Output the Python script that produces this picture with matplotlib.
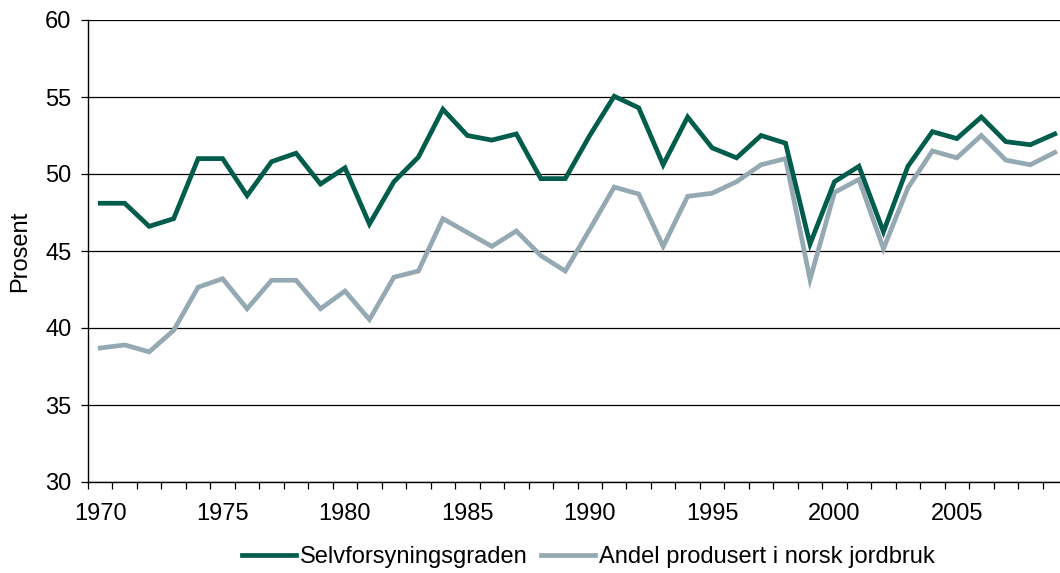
import matplotlib
matplotlib.use('Agg')
from matplotlib import pyplot as plt
from matplotlib.ticker import MultipleLocator, FixedLocator

# Years on the category axis
years = list(range(1970, 2010))

# Selvforsyningsgraden (prosent)
selvforsyning = [48.1, 48.1, 46.6, 47.1, 51.0, 51.0, 48.6, 50.8, 51.35, 49.35,
                 50.4, 46.75, 49.5, 51.1, 54.2, 52.5, 52.2, 52.6, 49.7, 49.7,
                 52.5, 55.05, 54.3, 50.6, 53.7, 51.7, 51.05, 52.5, 52.0, 45.45,
                 49.5, 50.5, 46.25, 50.5, 52.75, 52.3, 53.7, 52.1, 51.9, 52.6]

# Andel produsert i norsk jordbruk (prosent)
andel_norsk = [38.7, 38.9, 38.45, 39.85, 42.65, 43.2, 41.25, 43.1, 43.1, 41.25,
               42.4, 40.55, 43.3, 43.7, 47.1, 46.2, 45.3, 46.3, 44.7, 43.7,
               46.4, 49.15, 48.7, 45.3, 48.55, 48.75, 49.5, 50.6, 51.0, 43.15,
               48.8, 49.65, 45.15, 49.1, 51.5, 51.05, 52.5, 50.9, 50.6, 51.4]

year_labels = ['1970', '1975', '1980', '1985', '1990', '1995', '2000', '2005']

plt.rcParams['font.family'] = ['Liberation Sans', 'DejaVu Sans']

fig = plt.figure(figsize=(10.6, 5.73), dpi=100)
# Plot area runs past the right border, as in the original crop
ax = fig.add_axes([88 / 1060, 91 / 573, 979 / 1060, 462 / 573])

x = list(range(len(years)))
ax.plot(x, selvforsyning, color='#005c4b', linewidth=3.4,
        label='Selvforsyningsgraden', solid_joinstyle='miter', zorder=3)
ax.plot(x, andel_norsk, color='#95a9b3', linewidth=3.4,
        label='Andel produsert i norsk jordbruk', solid_joinstyle='miter', zorder=2)

ax.set_xlim(-0.5, len(years) - 0.5)
ax.set_ylim(30, 60)

# Y axis: gridlines every 5
ax.yaxis.set_major_locator(MultipleLocator(5))
ax.grid(axis='y', color='#000000', linewidth=0.9)
ax.set_axisbelow(True)
ax.tick_params(axis='y', direction='out', length=5, width=0.9, pad=7,
               labelsize=17, color='black')
ax.set_ylabel('Prosent', fontsize=17, labelpad=10)

# X axis: tick marks between categories, labels every five years
label_pos = [years.index(int(y)) for y in year_labels]
ax.xaxis.set_major_locator(FixedLocator(label_pos))
ax.set_xticklabels(year_labels)
ax.xaxis.set_minor_locator(FixedLocator([i - 0.5 for i in range(len(years) + 1)]))
ax.tick_params(axis='x', which='major', length=0, pad=15, labelsize=17)
ax.tick_params(axis='x', which='minor', direction='out', length=5, width=0.9,
               color='black')

for side in ['top', 'right']:
    ax.spines[side].set_visible(False)
ax.spines['left'].set_linewidth(1.0)
ax.spines['bottom'].set_linewidth(1.0)

ax.legend(loc='center', bbox_to_anchor=(0.511, -0.162), ncol=2, frameon=False,
          fontsize=17, handlelength=2.3, handletextpad=0.15, columnspacing=0.55)

fig.savefig('out.png', dpi=100)
